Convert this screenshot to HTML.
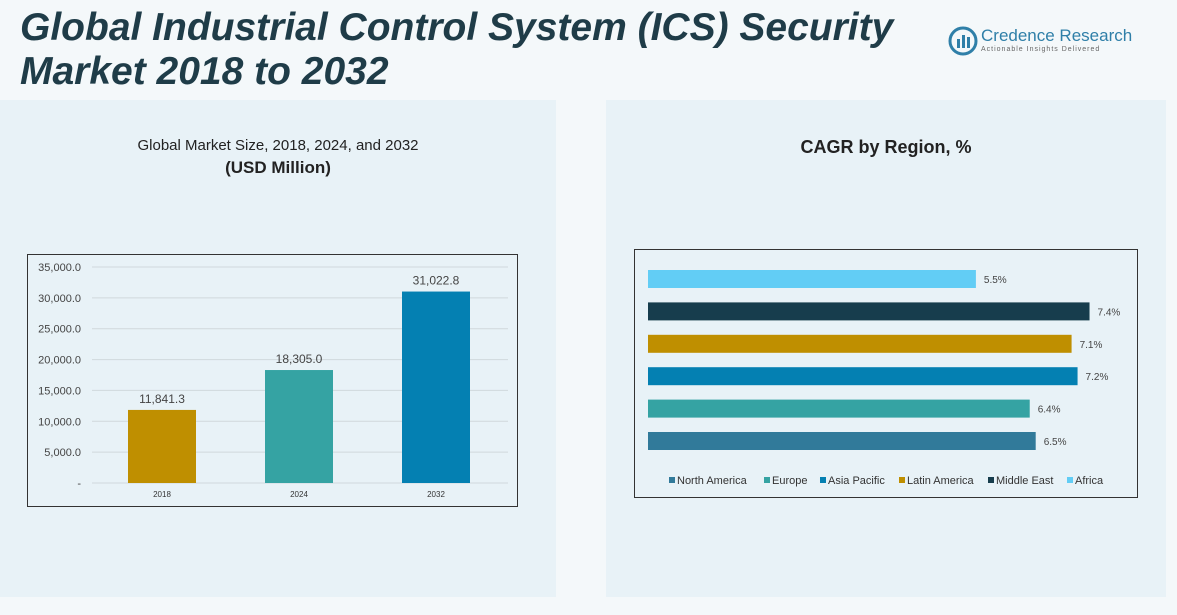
<!DOCTYPE html>
<html><head><meta charset="utf-8"><style>
body{margin:0;width:1177px;height:615px;overflow:hidden;background:#f4f8fa;font-family:"Liberation Sans",sans-serif;position:relative}
.abs{position:absolute}
</style></head><body>
<div class="abs" style="left:0;top:100px;width:556px;height:497px;background:#e8f2f7"></div>
<div class="abs" style="left:606px;top:100px;width:560px;height:497px;background:#e8f2f7"></div>
<div class="abs" style="left:20px;top:6px;font-size:39px;font-weight:bold;font-style:italic;color:#1f3c48;line-height:44px">Global Industrial Control System (ICS) Security<br>Market 2018 to 2032</div>
<div class="abs" style="left:948px;top:24px;width:200px;height:40px">
<svg width="30" height="30" style="position:absolute;left:0;top:2px"><circle cx="15" cy="15" r="13" fill="none" stroke="#2f7fa8" stroke-width="3"/><rect x="9" y="13" width="3" height="9" fill="#2f7fa8"/><rect x="14" y="9" width="3" height="13" fill="#2f7fa8"/><rect x="19" y="11" width="3" height="11" fill="#2f7fa8"/></svg>
<div class="abs" style="left:33px;top:2px;font-size:17px;color:#2f7fa8;white-space:nowrap">Credence Research</div>
<div class="abs" style="left:33px;top:22px;font-size:7px;color:#666;white-space:nowrap;letter-spacing:1px">Actionable Insights Delivered</div></div>
<div class="abs" style="left:0;width:556px;top:135px;text-align:center;font-size:15px;color:#222;line-height:22px">Global Market Size, 2018, 2024, and 2032<br><b style="font-size:17px">(USD Million)</b></div>
<div class="abs" style="left:606px;width:560px;top:137px;text-align:center;font-size:18px;font-weight:bold;color:#222">CAGR by Region, %</div>
<svg class="abs" style="left:0;top:0" width="1177" height="615" id="svg">
<rect x="27.5" y="254.5" width="490" height="252" fill="none" stroke="#333"/>
<rect x="634.5" y="249.5" width="503" height="248" fill="none" stroke="#333"/>
<g id="g1"></g><g id="g2"></g>
</svg>
<script>
const years=["2018","2024","2032"];
const sizes=[11841.3,18305.0,31022.8];
const sizeLabels=["11,841.3","18,305.0","31,022.8"];
const ticks=[0,5000,10000,15000,20000,25000,30000,35000];
const tickLabels=["-","5,000.0","10,000.0","15,000.0","20,000.0","25,000.0","30,000.0","35,000.0"];
const regions=["Africa","Middle East","Latin America","Asia Pacific","Europe","North America"];
const cagr=[5.5,7.4,7.1,7.2,6.4,6.5];
const cagrLabels=["5.5%","7.4%","7.1%","7.2%","6.4%","6.5%"];
const NS="http://www.w3.org/2000/svg";
function mk(t,a,p){const e=document.createElementNS(NS,t);for(const k in a)e.setAttribute(k,a[k]);p.appendChild(e);return e;}
const g1=document.getElementById('g1'),g2=document.getElementById('g2');
const barCols=["#bf8f00","#35a3a3","#0480b2"];
const y=v=>483-v*(216/35000);
const x=i=>162+i*137;
ticks.forEach((t,i)=>{
 const l=mk('line',{x1:92,x2:508,y1:y(t),y2:y(t),stroke:'#d0d8dc'},g1);
 
 
 const tx=mk('text',{x:81,y:y(t)+4,'text-anchor':'end','font-size':11,fill:'#444'},g1);tx.textContent=tickLabels[i];
 
 
});
years.forEach((yr,i)=>{
 const r=mk('rect',{x:x(i)-34,y:y(sizes[i]),width:68,height:483-y(sizes[i]),fill:barCols[i]},g1);
 
 
 const v=mk('text',{x:x(i),y:y(sizes[i])-7,'text-anchor':'middle','font-size':12,fill:'#444'},g1);v.textContent=sizeLabels[i];
 
 
 const c=mk('text',{x:x(i),y:497,'text-anchor':'middle','font-size':8,fill:'#333'},g1);c.textContent=yr;
 
 
});
const hcols={"Africa":"#62cdf5","Middle East":"#173d4d","Latin America":"#bf8f00","Asia Pacific":"#0480b2","Europe":"#35a3a3","North America":"#317a9a"};
const hx=v=>647+v*59.8;
const hy=i=>270+i*32.4;
regions.forEach((r,i)=>{
 const b=mk('rect',{x:648,y:hy(i),width:hx(cagr[i])-648,height:18,fill:hcols[r]},g2);
 
 
 const t=mk('text',{x:hx(cagr[i])+8,y:hy(i)+13,'font-size':10,fill:'#444'},g2);t.textContent=cagrLabels[i];
 
 
});
const legOrder=["North America","Europe","Asia Pacific","Latin America","Middle East","Africa"];
const legX=[669,764,820,899,988,1067];
legOrder.forEach((r,i)=>{
 const g=mk('g',{},g2);
 
 
 mk('rect',{x:legX[i],y:477,width:6,height:6,fill:hcols[r]},g);
 const t=mk('text',{x:legX[i]+8,y:484,'font-size':11,fill:'#333'},g);t.textContent=r;
});
</script>
</body></html>
